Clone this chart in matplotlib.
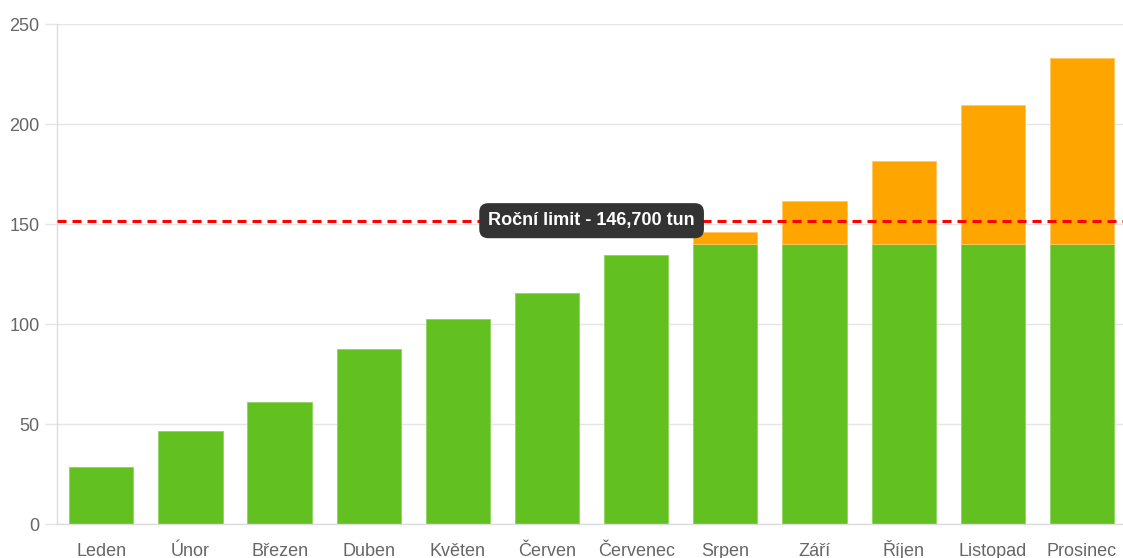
import matplotlib.pyplot as plt
import numpy as np

plt.rcParams['font.family'] = ['Liberation Sans', 'DejaVu Sans']
plt.rcParams['lines.scale_dashes'] = False

# data
months = ['Leden', 'Únor', 'Březen', 'Duben', 'Květen', 'Červen',
          'Červenec', 'Srpen', 'Září', 'Říjen', 'Listopad', 'Prosinec']
green_part = [28.8, 46.6, 61.0, 87.5, 102.5, 115.6, 134.8, 140, 140, 140, 140, 140]
orange_part = [0, 0, 0, 0, 0, 0, 0, 6.3, 21.8, 41.8, 69.5, 93.3]
limit_value = 151.8
limit_label = 'Roční limit - 146,700 tun'
y_ticks = [0, 50, 100, 150, 200, 250]

GREEN = '#63c021'
ORANGE = '#ffa500'
GRID = '#e5e5e5'
TXT = '#666666'

fig = plt.figure(figsize=(11.23, 5.58), dpi=100)
ax = fig.add_axes([0.0505, 0.0604, 0.9526, 0.8961])

x = np.arange(len(months))
green = np.array(green_part)
orange = np.array(orange_part)
ax.bar(x, green, width=0.72, color=GREEN, edgecolor='#8fd45e', linewidth=0.6, zorder=2)
# only months over the cap get an orange segment
over = orange > 0
ax.bar(x[over], orange[over], width=0.72, bottom=green[over], color=ORANGE,
       edgecolor='#ffc766', linewidth=0.6, zorder=2)

ax.axhline(limit_value, color='#ff0000', lw=2.2, dashes=(6.5, 4.3), zorder=3)
ax.text(5.5, limit_value, limit_label, ha='center', va='center', fontsize=13,
        fontweight='bold', color='white', zorder=4,
        bbox=dict(boxstyle='round,pad=0.5,rounding_size=0.5', fc='#333333', ec='none'))

ax.set_xlim(-0.5, len(months) - 0.5)
ax.set_ylim(0, 250)
ax.set_yticks(y_ticks)
ax.set_xticks(x)
ax.set_xticklabels(months, va='baseline')

ax.grid(axis='y', color=GRID, lw=1, zorder=0)
ax.set_axisbelow(True)
for side in ['top', 'right']:
    ax.spines[side].set_visible(False)
for side in ['left', 'bottom']:
    ax.spines[side].set_color('#dcdcdc')
    ax.spines[side].set_linewidth(1)

ax.tick_params(axis='y', length=8.4, width=1, color=GRID, pad=4, labelsize=13, labelcolor=TXT)
ax.tick_params(axis='x', length=0, pad=22.5, labelsize=13, labelcolor=TXT)

fig.savefig('out.png', dpi=100)
